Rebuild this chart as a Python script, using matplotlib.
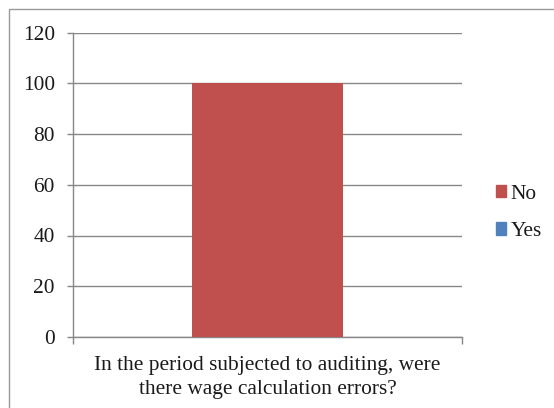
import matplotlib.pyplot as plt
import matplotlib.patches as mpatches

plt.rcParams['font.family'] = ['Liberation Serif', 'DejaVu Serif']

category = "In the period subjected to auditing, were\nthere wage calculation errors?"
series = ["No", "Yes"]
values = [100, 0]
colors = ["#C0504D", "#4F81BD"]
yticks = [0, 20, 40, 60, 80, 100, 120]

grid_col = "#878787"
fs = 15.4

fig = plt.figure(figsize=(5.54, 4.08), dpi=100)
W, H = 554, 408

# chart-area border (only left and top fall inside the image)
fig.patches.append(mpatches.Rectangle((9 / W, -0.1), 1.2, 1 - 9 / H + 0.1,
                                      transform=fig.transFigure, fill=False,
                                      edgecolor="#9A9A9A", linewidth=1.0))

ax = fig.add_axes([73 / W, 1 - 337 / H, (462 - 73) / W, (337 - 32.5) / H])

# both series share the single category slot; "Yes" is zero so it draws nothing
for name, val, col in zip(series, values, colors):
    ax.bar(0, val, width=0.39, color=col, label=name, zorder=3)

ax.set_xlim(-0.5, 0.5)
ax.set_ylim(0, 120)
ax.set_yticks(yticks)
ax.tick_params(axis='y', length=4, width=1, color=grid_col, labelsize=fs, pad=9)
ax.set_yticklabels([str(t) for t in yticks], color="#1a1a1a")

ax.set_xticks([0])
ax.set_xticklabels([category], fontsize=fs, color="#1a1a1a", linespacing=1.3)
ax.tick_params(axis='x', which='major', length=0, pad=14)
ax.set_xticks([-0.5, 0.5], minor=True)
ax.tick_params(axis='x', which='minor', length=5, width=1, color=grid_col)

ax.yaxis.grid(True, color=grid_col, linewidth=1)
ax.set_axisbelow(True)
for s in ["top", "right"]:
    ax.spines[s].set_visible(False)
for s in ["left", "bottom"]:
    ax.spines[s].set_color(grid_col)
    ax.spines[s].set_linewidth(1)

handles = [mpatches.Patch(color=c, label=n) for n, c in zip(series, colors)]
leg = fig.legend(handles=handles, loc="center left", bbox_to_anchor=(485 / W, 1 - 213 / H),
                 frameon=False, fontsize=fs, handlelength=0.5, handleheight=0.5,
                 handletextpad=0.2, labelspacing=0.85, borderpad=0)
for t in leg.get_texts():
    t.set_color("#1a1a1a")

fig.savefig("out.png", dpi=100)
